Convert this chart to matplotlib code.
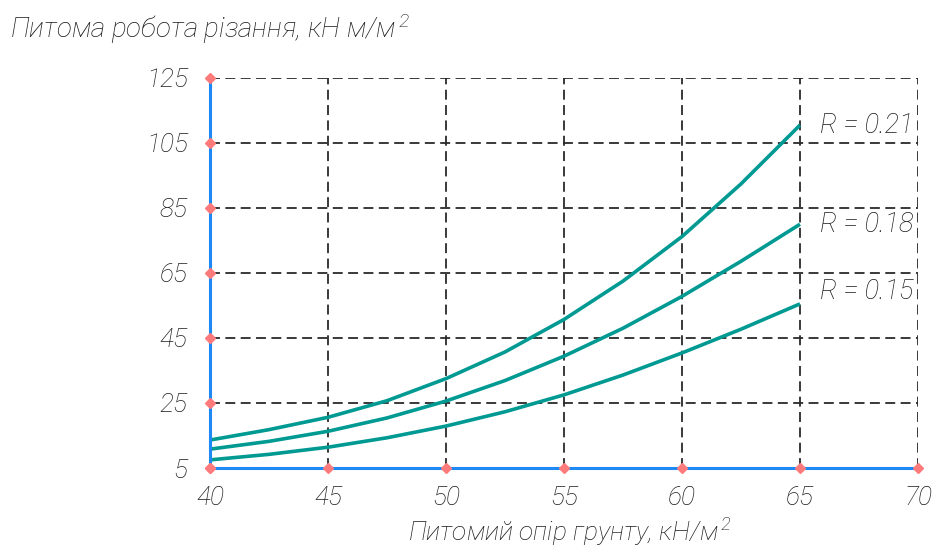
import numpy as np
import matplotlib
matplotlib.use("Agg")
import matplotlib.pyplot as plt

plt.rcParams['font.family'] = ['Roboto', 'DejaVu Sans']
plt.rcParams['font.style'] = 'italic'
plt.rcParams['font.weight'] = 'light'
plt.rcParams['mathtext.fontset'] = 'custom'
plt.rcParams['mathtext.rm'] = 'Roboto:italic:light'
plt.rcParams['mathtext.it'] = 'Roboto:italic:light'

# soil specific resistance, kN/m^2
x = [40, 42.5, 45, 47.5, 50, 52.5, 55, 57.5, 60, 62.5, 65]
# specific cutting work for each R
r021 = [13.6, 16.8, 20.6, 25.7, 32.5, 40.7, 50.7, 62.5, 76.2, 92.4, 110.5]
r018 = [10.8, 13.2, 16.3, 20.4, 25.6, 31.9, 39.4, 48.0, 57.8, 68.6, 80.0]
r015 = [7.5, 9.2, 11.4, 14.3, 17.9, 22.3, 27.5, 33.6, 40.4, 47.7, 55.5]
labels = ['R = 0.21', 'R = 0.18', 'R = 0.15']
label_y = [110.5, 80, 59.2]

xticks = [40, 45, 50, 55, 60, 65, 70]
yticks = [5, 25, 45, 65, 85, 105, 125]

teal = '#009a93'
blue = '#1e88f5'
txt = '#1a1a1a'

fig = plt.figure(figsize=(9.37, 5.53), dpi=100)
ax = fig.add_axes([0.2241, 0.1537, 0.7556, 0.7053])

for ys in (r021, r018, r015):
    ax.plot(x, ys, color=teal, lw=2.6, zorder=4, solid_capstyle='butt')

for lab, ly in zip(labels, label_y):
    ax.text(65.85, ly, lab, fontsize=19.5, color=txt, va='center', ha='left',
            zorder=3, bbox=dict(facecolor='white', edgecolor='none', pad=0.5))

ax.set_xlim(40, 70)
ax.set_ylim(5, 125)
ax.set_xticks(xticks)
ax.set_yticks(yticks)
ax.grid(True, color='#2a2a2a', lw=1.3, linestyle=(0, (5.5, 3)), zorder=1)
ax.set_axisbelow(True)
ax.tick_params(length=0, labelsize=19, labelcolor=txt)
ax.tick_params(axis='y', pad=16)
ax.tick_params(axis='x', pad=13)

for s in ('top', 'right'):
    ax.spines[s].set_visible(False)
for s in ('left', 'bottom'):
    ax.spines[s].set_color(blue)
    ax.spines[s].set_linewidth(2.2)
    ax.spines[s].set_zorder(5)

# red tick markers
ax.plot(xticks, [5] * len(xticks), 'D', ms=5, color='#ff7b7b', clip_on=False, zorder=6)
ax.plot([40] * len(yticks), yticks, 'D', ms=5, color='#ff7b7b', clip_on=False, zorder=6)

fig.text(10 / 937, 1 - 38 / 553, 'Питома робота різання, кН м/м$^{\\,2}$', fontsize=20,
         color=txt, ha='left', va='baseline')
fig.text(408 / 937, 1 - 541 / 553, 'Питомий опір грунту, кН/м$^{\\,2}$', fontsize=19,
         color=txt, ha='left', va='baseline')

fig.savefig('out.png', dpi=100, facecolor='white')
